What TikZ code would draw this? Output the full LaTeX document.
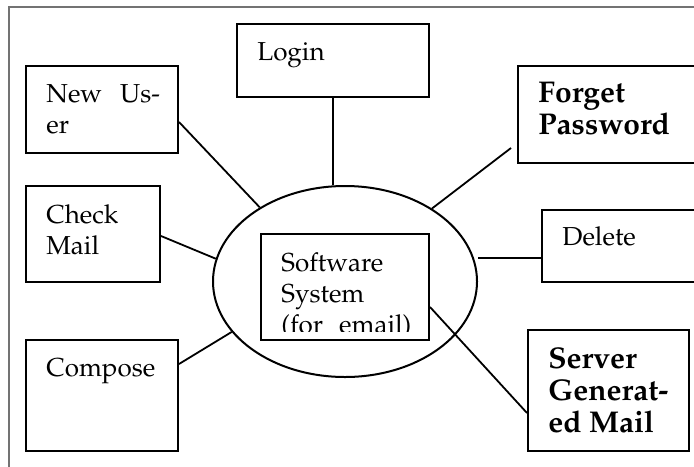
\documentclass[tikz,border=0pt]{standalone}
\usepackage[T1]{fontenc}
\usepackage{mathpazo}
\usetikzlibrary{calc,shapes.geometric}
\tikzset{
  box/.style={draw, rectangle, line width=1pt, inner sep=0pt},
  lbl/.style={anchor=north west, inner sep=0pt, align=left, font=\fontsize{13}{15.5}\selectfont},
  lblb/.style={lbl, font=\fontsize{15}{16}\selectfont\bfseries},
  link/.style={line width=0.9pt},
}

\begin{document}
\begin{tikzpicture}[x=0.5pt,y=-0.5pt]
		%%%%% START %%%%%
		\useasboundingbox (0,0) rectangle (694,466);
		
		% open frame, top and left only
		\draw[black!55, line width=0.6pt] (9,480) -- (9,7) -- (710,7);
		
		% use cases round the system
		\node[box, minimum width=96pt, minimum height=36.5pt] (login) at (333,60.5) {};
		\node[box, minimum width=76pt, minimum height=43.5pt] (newuser) at (102,109.5) {};
		\node[box, minimum width=67pt, minimum height=48pt] (check) at (93,234) {};
		\node[box, minimum width=76pt, minimum height=55.5pt] (compose) at (102,395.5) {};
		\node[box, minimum width=93pt, minimum height=48.5pt] (forget) at (611,114.5) {};
		\node[box, minimum width=81pt, minimum height=36pt] (delete) at (623,246) {};
		\node[box, minimum width=80.5pt, minimum height=60.5pt] (server) at (608.5,390.5) {};
		
		% the system itself
		\node[draw, ellipse, line width=1pt, inner sep=0pt, minimum width=132pt, minimum height=95.5pt] (sys) at (345,281.5) {};
		\node[box, minimum width=84pt, minimum height=53pt] (soft) at (345,287) {};
		
		% labels
		\node[lbl] (logintxt) at ($(login.north west)+(21,19)$) {Login};
		\node[lbl] (newusertxt) at ($(newuser.north west)+(21,19)$) {New\hspace{9pt}Us-\\er};
		\node[lbl] (checktxt) at ($(check.north west)+(21,19)$) {Check\\Mail};
		\node[lbl] (composetxt) at ($(compose.north west)+(21,19)$) {Compose};
		\node[lblb] (forgettxt) at ($(forget.north west)+(21,17)$) {Forget\\Password};
		\node[lbl] (deletetxt) at ($(delete.north west)+(21,17.5)$) {Delete};
		\node[lblb] (servertxt) at ($(server.north west)+(21,18)$) {Server\\Generat-\\ed Mail};
		\begin{scope}
			\clip (soft.north west) rectangle ($(soft.south east)+(0,-10)$);
			\node[lbl] (softtxt) at ($(soft.north west)+(21,19)$) {Software\\System\\(for\hspace{8pt}email)};
		\end{scope}
		
		% connectors
		\draw[link] (login.south) -- (login.south |- sys.north);
		\draw[link] ($(newuser.east)+(0,12.5)$) -- (sys.139.5);
		\draw[link] ($(check.east)+(0,2)$) -- (sys.170.3);
		\draw[link] ($(compose.east)+(0,-31.5)$) -- (sys.204.7);
		\draw[link] ($(forget.west)+(-6,33.5)$) -- (sys.40.1);
		\draw[link] ($(delete.west)+(0,12)$) coordinate (d1) -- (d1 -| sys.east);
		\draw[link] ($(soft.east)+(0,20)$) -- ($(server.west)+(0,22.5)$);
		
		%%%%% END %%%%%
	\end{tikzpicture}
\end{document}
